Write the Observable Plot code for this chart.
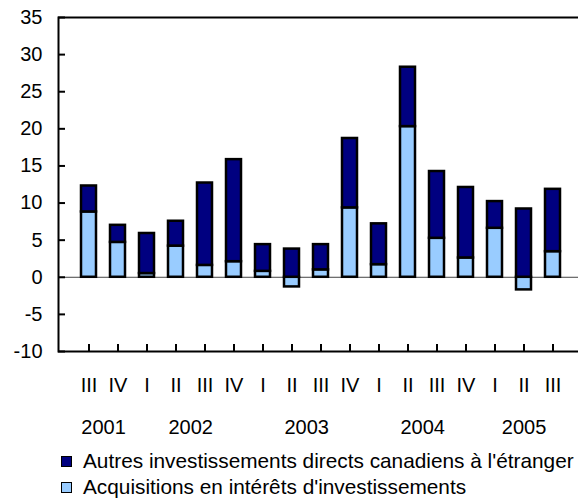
<!DOCTYPE html>
<html>
<head>
<meta charset="utf-8">
<script src="https://cdn.jsdelivr.net/npm/d3@7"></script>
<script src="https://cdn.jsdelivr.net/npm/@observablehq/plot@0.6"></script>
<style>
  html, body { margin: 0; padding: 0; background: white; }
  body { width: 578px; height: 500px; overflow: hidden; font-family: "Liberation Sans", Arial, sans-serif; }
  #chart svg { display: block; }
  .legend { padding-top: 3px; padding-left: 61px; font-size: 20.8px; color: black; }
  .row { height: 26px; line-height: 26px; display: flex; align-items: center; white-space: nowrap; }
  .sw { width: 9px; height: 9px; border: 1.5px solid black; margin-right: 11px; flex: none; }
</style>
</head>
<body>
<div id="chart"></div>
<div class="legend" id="legend"></div>
<script>
const periodKeys = ["2001 III","2001 IV","2002 I","2002 II","2002 III","2002 IV","2003 I","2003 II","2003 III","2003 IV","2004 I","2004 II","2004 III","2004 IV","2005 I","2005 II","2005 III"];
const yearLabels = ["2001","2002","2003","2004","2005"];
const seriesNames = ["Acquisitions en intérêts d'investissements", "Autres investissements directs canadiens à l'étranger"];
const acquisitions = [8.8, 4.7, 0.5, 4.2, 1.6, 2.1, 0.8, -1.3, 1.0, 9.35, 1.7, 20.3, 5.25, 2.6, 6.6, -1.7, 3.45];
const autres = [3.5, 2.3, 5.4, 3.35, 11.1, 13.75, 3.6, 3.8, 3.4, 9.35, 5.5, 8.0, 9.0, 9.5, 3.6, 9.2, 8.4];
const yTicks = [-10, -5, 0, 5, 10, 15, 20, 25, 30, 35];
const colors = ["#99CCFF", "#000080"];

const rows = [];
periodKeys.forEach((k, i) => rows.push({key: k, series: seriesNames[0], value: acquisitions[i]}));
periodKeys.forEach((k, i) => rows.push({key: k, series: seriesNames[1], value: autres[i]}));

const W = 578, H = 445, mL = 58, mR = -4, mT = 17, mB = 94;
const pIn = 0.5, pOut = 0.75;
const step = (W - mL - mR) / (periodKeys.length - pIn + 2 * pOut);

const yearMarks = yearLabels.map(y => {
  const idx = periodKeys.filter(k => k.startsWith(y));
  const first = idx[0];
  return Plot.text([y], {
    x: () => first, text: d => d,
    frameAnchor: "bottom", lineAnchor: "top", dy: 68,
    dx: (idx.length - 1) / 2 * step,
    fill: "black"
  });
});

const chart = Plot.plot({
  width: W, height: H,
  marginTop: mT, marginLeft: mL, marginRight: mR, marginBottom: mB,
  style: {fontFamily: "'Liberation Sans', Arial, sans-serif", fontSize: "20px", color: "black", background: "white"},
  x: {domain: periodKeys, paddingInner: pIn, paddingOuter: pOut, axis: null, label: null},
  y: {domain: [-10, 35], axis: null, label: null},
  color: {domain: seriesNames, range: colors},
  marks: [
    Plot.ruleY([0], {stroke: "#444", strokeWidth: 1}),
    Plot.barY(rows, {x: "key", y: "value", fill: "series", stroke: "black", strokeWidth: 2.5}),
    Plot.frame({stroke: "black", strokeWidth: 2}),
    Plot.axisY(yTicks, {label: null, tickSize: 7, dx: 7, tickFormat: () => "", stroke: "black", strokeWidth: 2}),
    Plot.axisY(yTicks, {label: null, tickSize: 0, tickPadding: 16, tickFormat: d => String(d), fill: "black"}),
    Plot.axisX(periodKeys, {label: null, tickSize: 7, dy: -7, tickFormat: () => "", stroke: "black", strokeWidth: 2}),
    Plot.axisX(periodKeys, {label: null, tickSize: 0, tickPadding: 26, tickFormat: k => k.split(" ")[1], fill: "black"}),
    ...yearMarks
  ]
});
document.getElementById("chart").appendChild(chart);

const legend = document.getElementById("legend");
[1, 0].forEach(i => {
  const row = document.createElement("div");
  row.className = "row";
  const sw = document.createElement("span");
  sw.className = "sw";
  sw.style.background = colors[i];
  row.appendChild(sw);
  row.appendChild(document.createTextNode(seriesNames[i]));
  legend.appendChild(row);
});
</script>
</body>
</html>
